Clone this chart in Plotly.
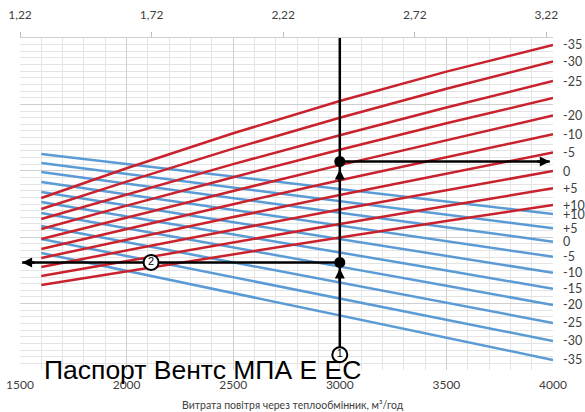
import plotly.graph_objects as go

# Air flow through heat exchanger, m3/h (points along every curve)
FLOW = [1600, 2000, 2500, 3000, 3500, 4000]

# Red curves (rising), top to bottom, with their right-hand labels
RED_LABELS = ["-35", "-30", "-25", "", "-20", "-10", "-5", "0", "+5", "+10"]
RED_LINES = [
    [25.90, 30.38, 35.65, 40.51, 44.94, 48.95],
    [24.25, 28.37, 33.34, 38.00, 42.36, 46.46],
    [22.74, 26.46, 31.01, 35.36, 39.53, 43.52],
    [21.23, 24.76, 29.04, 33.16, 37.15, 40.96],
    [19.73, 22.97, 26.97, 30.86, 34.64, 38.33],
    [18.22, 21.25, 24.97, 28.57, 32.09, 35.50],
    [16.87, 19.62, 23.03, 26.36, 29.59, 32.76],
    [15.51, 18.03, 21.13, 24.16, 27.11, 29.97],
    [14.16, 16.43, 19.23, 22.00, 24.71, 27.36],
    [12.80, 14.88, 17.44, 19.97, 22.44, 24.85],
]

# Blue curves (falling), top to bottom
BLUE_LABELS = ["+10", "+5", "0", "-5", "-10", "-15", "-20", "-25", "-30", "-35"]
BLUE_LINES = [
    [32.53, 31.04, 29.16, 27.26, 25.38, 23.49],
    [31.17, 29.55, 27.50, 25.44, 23.39, 21.34],
    [29.82, 28.09, 25.89, 23.70, 21.51, 19.32],
    [28.31, 26.45, 24.11, 21.76, 19.41, 17.06],
    [26.81, 24.79, 22.26, 19.73, 17.18, 14.65],
    [25.30, 23.15, 20.42, 17.70, 14.97, 12.24],
    [23.64, 21.36, 18.46, 15.57, 12.68, 9.79],
    [21.69, 19.26, 16.22, 13.18, 10.12, 7.08],
    [19.73, 17.18, 13.99, 10.78, 7.58, 4.37],
    [17.62, 14.95, 11.60, 8.22, 4.86, 1.51],
]

# top axis (ratio scale) tick labels
TOP_TICKS = [1.22, 1.72, 2.22, 2.72, 3.22]
TOP_TEXT = ["1,22", "1,72", "2,22", "2,72", "3,22"]
BOTTOM_TICKS = [1500, 2000, 2500, 3000, 3500, 4000]

# worked example on the nomogram
EX_FLOW = 3000
EX_START = 2.3
EX_LOWER = 16.2
EX_UPPER = 31.4
EX_TOP = 50.3
EX_LEFT = 1510
EX_RIGHT = 3985
EX_MARK2 = 2115

RED = "#C9222C"
BLUE = "#5B9BD5"
GRID_MINOR = "#e4e4e4"
GRID_MAJOR = "#cfcfcf"
TEXT = "#404040"

fig = go.Figure()

for vals in BLUE_LINES:
    fig.add_trace(go.Scatter(x=FLOW, y=vals, mode="lines",
                             line=dict(color=BLUE, width=2.5), hoverinfo="skip"))
for vals in RED_LINES:
    fig.add_trace(go.Scatter(x=FLOW, y=vals, mode="lines",
                             line=dict(color=RED, width=2.5), hoverinfo="skip"))

# example path lines
black = dict(color="black", width=2.5)
fig.add_trace(go.Scatter(x=[EX_FLOW, EX_FLOW], y=[EX_START, EX_TOP], mode="lines",
                         line=black, cliponaxis=False, hoverinfo="skip"))
fig.add_trace(go.Scatter(x=[EX_FLOW, EX_RIGHT], y=[EX_UPPER, EX_UPPER], mode="lines",
                         line=black, hoverinfo="skip"))
fig.add_trace(go.Scatter(x=[EX_LEFT, EX_FLOW], y=[EX_LOWER, EX_LOWER], mode="lines",
                         line=black, hoverinfo="skip"))
fig.add_trace(go.Scatter(x=[EX_FLOW, EX_FLOW], y=[EX_LOWER, EX_UPPER], mode="markers",
                         marker=dict(size=11, color="black"), hoverinfo="skip"))
fig.add_trace(go.Scatter(x=[EX_FLOW, EX_MARK2], y=[EX_START, EX_LOWER], mode="markers+text",
                         text=["1", "2"], textposition="middle center",
                         textfont=dict(size=11, color="black", family="Liberation Sans"),
                         marker=dict(size=15, color="white", line=dict(color="black", width=2)),
                         cliponaxis=False, hoverinfo="skip"))

# dummy trace so the top axis is drawn
fig.add_trace(go.Scatter(x=TOP_TICKS, y=[0] * len(TOP_TICKS), xaxis="x2", mode="markers",
                         marker=dict(opacity=0), hoverinfo="skip"))

# arrow heads
heads = [
    (EX_FLOW, EX_TOP, 0, 14),
    (EX_FLOW, EX_UPPER - 1.2, 0, 14),
    (EX_FLOW, EX_LOWER - 0.9, 0, 14),
    (EX_RIGHT, EX_UPPER, -14, 0),
    (EX_LEFT, EX_LOWER, 14, 0),
]
for hx, hy, ax, ay in heads:
    fig.add_annotation(x=hx, y=hy, ax=ax, ay=ay, text="", showarrow=True,
                       arrowhead=2, arrowsize=0.8, arrowwidth=2.5, arrowcolor="black")

# right-hand labels at line ends
for lab, vals in zip(RED_LABELS + BLUE_LABELS, RED_LINES + BLUE_LINES):
    if lab:
        fig.add_annotation(x=FLOW[-1], y=vals[-1], text=lab, showarrow=False,
                           xanchor="left", xshift=8, font=dict(size=12.5, color=TEXT))

fig.add_annotation(x=0.342, y=0.0, xref="paper", yref="paper", xanchor="center",
                   yanchor="middle", text="Паспорт Вентс МПА Е ЕС", showarrow=False,
                   font=dict(size=26.5, color="black", family="Liberation Sans"))
fig.add_annotation(x=0.512, y=-0.105, xref="paper", yref="paper", yanchor="middle",
                   text="Витрата повітря через теплообмінник, м³/год", showarrow=False,
                   font=dict(size=10.5, color=TEXT))

fig.update_layout(
    width=585,
    height=412,
    margin=dict(l=20, r=32, t=38, b=42),
    plot_bgcolor="white",
    paper_bgcolor="white",
    showlegend=False,
    font=dict(family="Lato", size=12, color=TEXT),
    xaxis=dict(
        range=[1500, 4000], automargin=False,
        tickvals=BOTTOM_TICKS,
        ticks="outside", ticklen=4, tickcolor="rgba(0,0,0,0)",
        showgrid=True, gridcolor=GRID_MAJOR, gridwidth=1,
        minor=dict(dtick=100, showgrid=True, gridcolor=GRID_MINOR),
        zeroline=False, showline=False,
    ),
    xaxis2=dict(
        overlaying="x", side="top", range=[1.22, 3.245], automargin=False,
        tickvals=TOP_TICKS, ticktext=TOP_TEXT,
        ticks="outside", ticklen=5, tickcolor="#bfbfbf",
        ticklabelstandoff=8,
        showgrid=False, showline=True, linecolor="#cfcfcf", zeroline=False,
    ),
    yaxis=dict(
        range=[0, 50], dtick=10, showticklabels=False, automargin=False,
        showgrid=True, gridcolor=GRID_MAJOR,
        minor=dict(dtick=1, showgrid=True, gridcolor=GRID_MINOR),
        zeroline=False, showline=False,
    ),
)

fig.write_html("out.html", config={"displayModeBar": False},
               post_script="document.body.style.margin='0';")
